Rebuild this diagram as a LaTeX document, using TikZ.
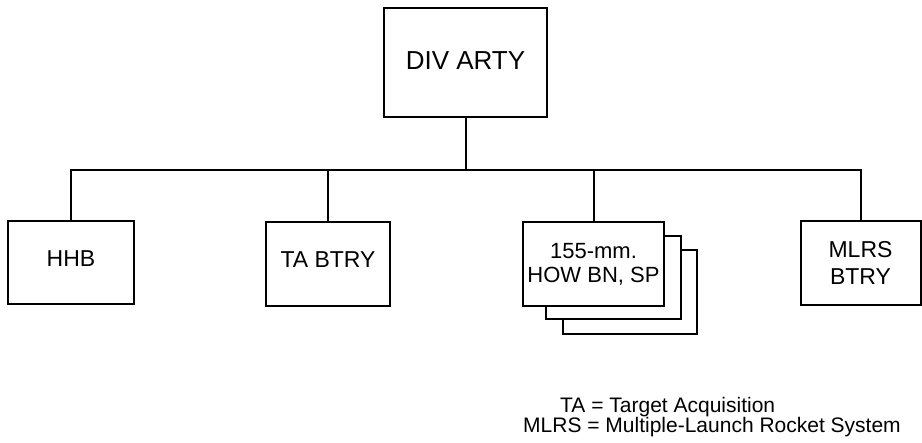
\documentclass[tikz,border=0pt]{standalone}
\usepackage{fontspec}
\setmainfont{Liberation Sans}
\begin{document}
\begin{tikzpicture}[x=1pt,y=-1pt,
  unitbox/.style={draw=black,line width=2pt,fill=white,inner sep=0pt,
    font=\fontsize{23}{25}\selectfont,align=center},
  link/.style={draw=black,line width=2pt},
  legend/.style={inner sep=0pt,font=\fontsize{21}{20}\selectfont}]
\useasboundingbox (0,0) rectangle (922,443);
% headquarters
\node[unitbox,minimum width=163pt,minimum height=109pt,font=\fontsize{26}{28}\selectfont,
  text height=18.6pt,text depth=3.6pt] (div) at (465.5,62.5) {DIV ARTY};
\coordinate (bus) at (465.5,170);
% subordinate units
\node[unitbox,minimum width=126pt,minimum height=83pt,text height=16.5pt,text depth=8pt] (hhb) at (71,262.5) {HHB};
\node[unitbox,minimum width=124pt,minimum height=84pt,text height=16.5pt,text depth=8.5pt] (ta) at (328,264) {TA BTRY};
\node[unitbox,minimum width=134pt,minimum height=84pt] (how3) at (630,292) {};
\node[unitbox,minimum width=135pt,minimum height=83pt] (how2) at (613.5,277.5) {};
\node[unitbox,minimum width=141pt,minimum height=84pt,font=\fontsize{22}{24}\selectfont] (how) at (593.5,264) {155-mm.\\HOW BN, SP};
\node[unitbox,minimum width=120pt,minimum height=84pt,font=\fontsize{23}{27}\selectfont] (mlrs) at (860.5,263) {MLRS\\BTRY};
% connectors
\draw[link] (div.south) -- (bus);
\draw[link] (hhb.north) -- (hhb.north |- bus) -- (mlrs.north |- bus) -- (mlrs.north);
\draw[link] (ta.north) -- (ta.north |- bus);
\draw[link] (how.north) -- (how.north |- bus);
% legend
\node[legend,anchor=base west] (leg1) at (560,413) {TA = Target Acquisition};
\node[legend,anchor=base west] (leg2) at (523,433) {MLRS = Multiple-Launch Rocket System};
\end{tikzpicture}
\end{document}
